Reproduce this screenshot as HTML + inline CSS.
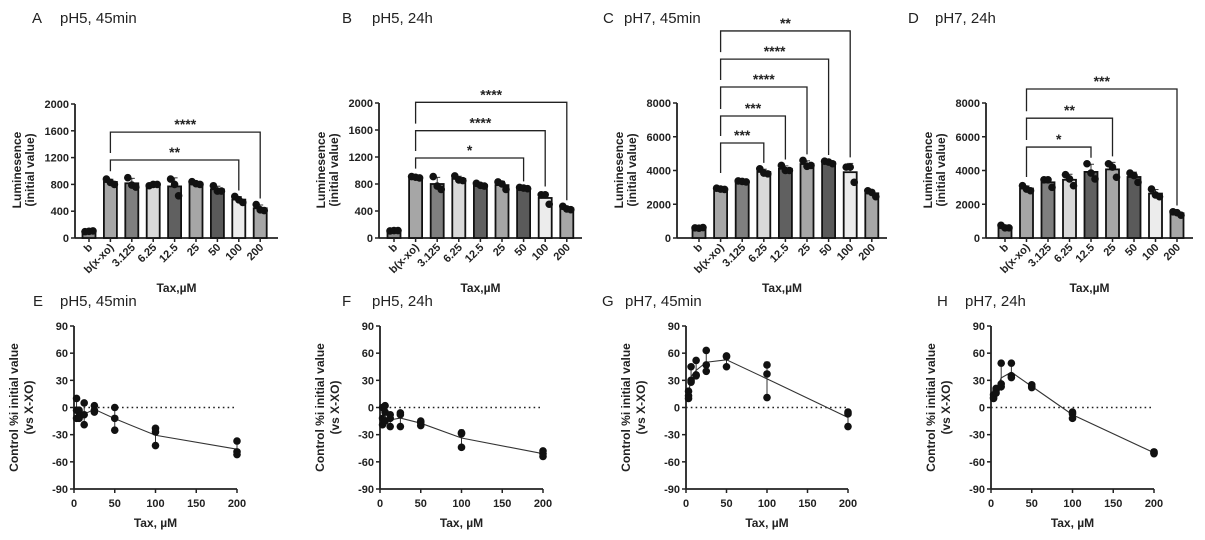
<!DOCTYPE html>
<html><head><meta charset="utf-8">
<style>
html,body{margin:0;padding:0;background:#fff;}
svg{display:block;font-family:"Liberation Sans",Arial,sans-serif;}
.tk{font-size:11px;font-weight:bold;fill:#222;}
.tt{font-size:12px;font-weight:bold;fill:#222;}
.pt{font-size:15px;fill:#222;}
</style></head>
<body>
<svg id="fig" width="1205" height="540" viewBox="0 0 1205 540" xmlns="http://www.w3.org/2000/svg"></svg>
<script>
// ---- data ----
const barCats = ["b","b(x-xo)","3.125","6.25","12.5","25","50","100","200"];
const barColors = ["#8a8a8a","#a6a6a6","#7f7f7f","#d9d9d9","#606060","#a6a6a6","#5a5a5a","#ececec","#a6a6a6"];
const ptsA = [[95,100,105],[880,830,800],[900,790,760],[780,800,800],[880,800,630],[840,810,800],[780,700,700],[620,570,530],[500,420,410]];
const ptsB = [[105,110,110],[910,900,890],[910,770,720],[920,860,850],[810,780,770],[830,800,720],[750,740,730],[640,640,500],[470,430,420]];
const ptsC = [[600,580,620],[2950,2900,2880],[3380,3350,3320],[4100,3850,3800],[4300,4000,4000],[4600,4250,4300],[4550,4500,4400],[4200,4200,3300],[2800,2700,2450]];
const ptsD = [[750,600,600],[3100,2900,2800],[3450,3450,3000],[3750,3500,3100],[4400,3850,3500],[4400,4200,3600],[3850,3700,3300],[2900,2550,2450],[1550,1500,1350]];
const sigA = [[1164,7,"**"],[1580,8,"****"]];
const sigB = [[1185,6,"*"],[1590,7,"****"],[2010,8,"****"]];
const sigC = [[5630,3,"***"],[7230,4,"***"],[8950,5,"****"],[10600,6,"****"],[12270,7,"**"]];
const sigD = [[5390,4,"*"],[7100,5,"**"],[8830,8,"***"]];
const ticksLow = [0,400,800,1200,1600,2000];
const ticksHigh = [0,2000,4000,6000,8000];
const conc = [3.125,6.25,12.5,25,50,100,200];
const ptsE = [[10,-3,-12],[-3,-10,-12],[5,-8,-19],[2,-3,-5],[0,-12,-25],[-23,-27,-42],[-37,-49,-52]];
const ptsF = [[0,-12,-19],[2,-5,-15],[-8,-12,-21],[-6,-8,-21],[-15,-17,-20],[-28,-29,-44],[-48,-51,-54]];
const ptsG = [[18,13,10],[45,30,28],[52,36,35],[63,47,40],[57,56,45],[47,37,11],[-5,-7,-21]];
const ptsH = [[14,11,10],[21,19,16],[49,26,23],[49,35,33],[25,23,22],[-5,-7,-12],[-49,-50,-51]];
const yTicksPct = [-90,-60,-30,0,30,60,90];
const xTicksPct = [0,50,100,150,200];

const svg = document.getElementById('fig');
const NS = "http://www.w3.org/2000/svg";
function mk(tag, attrs, parent){
  const e = document.createElementNS(NS, tag);
  for (const k in attrs) e.setAttribute(k, attrs[k]);
  (parent||svg).appendChild(e);
  return e;
}
function mean(a){return a.reduce((s,v)=>s+v,0)/a.length;}
function sd(a){const m=mean(a);return Math.sqrt(a.reduce((s,v)=>s+(v-m)*(v-m),0)/(a.length-1));}
function title(x1,x2,y,letter,txt,nm){
  const g = mk('g',{});
  
  
  const a = mk('text',{x:x1,y:y,class:'pt'},g); a.textContent = letter;
  const b = mk('text',{x:x2,y:y,class:'pt'},g); b.textContent = txt;
}

function barPanel(o){
  const g = mk('g',{});
  
  
  const yS = v => o.y0 - (v/o.ymax)*(o.y0-o.ytop);
  const xS = i => o.bx0 + i*o.step;
  const ya = mk('line',{x1:o.ax,y1:o.ytop,x2:o.ax,y2:o.y0,stroke:'#222','stroke-width':1.8},g);
  
  
  const xa = mk('line',{x1:o.ax,y1:o.y0,x2:o.axEnd,y2:o.y0,stroke:'#222','stroke-width':1.8},g);
  
  
  o.ticks.forEach(t=>{
    const y = yS(t);
    mk('line',{x1:o.ax-4,y1:y,x2:o.ax,y2:y,stroke:'#222','stroke-width':1.5},g);
    const tx = mk('text',{x:o.ax-6,y:y+4,'text-anchor':'end',class:'tk'},g);
    
    
    tx.textContent = t;
  });
  o.pts.forEach((p,i)=>{
    const m = mean(p), s = sd(p), cx = xS(i);
    const bar = mk('rect',{x:cx-6.5,y:yS(m),width:13,height:o.y0-yS(m),fill:barColors[i],stroke:'#111','stroke-width':1.8},g);
    
    
    mk('line',{x1:cx,y1:yS(m),x2:cx,y2:yS(m+s),stroke:'#333','stroke-width':1},g);
    mk('line',{x1:cx-3,y1:yS(m+s),x2:cx+3,y2:yS(m+s),stroke:'#333','stroke-width':1},g);
    const offs=[-4,0,4];
    p.forEach((v,j)=>{
      const c = mk('circle',{cx:cx+offs[j],cy:yS(v),r:3.8,fill:'#111'},g);
      
      
    });
    mk('line',{x1:cx,y1:o.y0,x2:cx,y2:o.y0+4,stroke:'#222','stroke-width':1.5},g);
    const lb = mk('text',{x:cx+4,y:o.y0+10,'text-anchor':'end',class:'tk',transform:`rotate(-45 ${cx+4} ${o.y0+10})`},g);
    
    
    lb.textContent = barCats[i];
  });
  const sorted = o.sig.slice().sort((a,b)=>a[0]-b[0]);
  const bxoTop = yS(mean(o.pts[1])+sd(o.pts[1]));
  sorted.forEach((sg,k)=>{
    const y = yS(sg[0]);
    const xl = xS(1), xr = xS(sg[1]);
    const tp = o.pts[sg[1]];
    const yr = yS(Math.max(...tp, mean(tp)+sd(tp))) - 6;
    let yl;
    if (k===0) yl = Math.max(y+8, Math.min(bxoTop-8, y+30));
    else yl = yS(sorted[k-1][0]) - 7;
    const br = mk('path',{d:`M${xl},${yl} V${y} H${xr} V${yr}`,fill:'none',stroke:'#222','stroke-width':1.3},g);
    
    
    const st = mk('text',{x:(xl+xr)/2,y:y-3,'text-anchor':'middle','font-size':'14px','font-weight':'bold',fill:'#222'},g);
    
    
    st.textContent = sg[2];
  });
  const yt = mk('text',{transform:`translate(${o.ax-54},${o.y0-68}) rotate(-90)`,'text-anchor':'middle',class:'tt'},g);
  
  
  const t1 = mk('tspan',{x:0,dy:0},yt); t1.textContent='Luminesence';
  const t2 = mk('tspan',{x:0,dy:13},yt); t2.textContent='(initial value)';
  const xt = mk('text',{x:(o.ax+o.axEnd)/2,y:292,'text-anchor':'middle',class:'tt'},g);
  
  
  xt.textContent = 'Tax,µM';
}

function linePanel(o){
  const g = mk('g',{});
  
  
  const yTop=326, yBot=489;
  const yS = v => yBot - (v+90)/180*(yBot-yTop);
  const xS = v => o.ax + v/200*(o.x200-o.ax);
  const ya = mk('line',{x1:o.ax,y1:yTop,x2:o.ax,y2:yBot,stroke:'#222','stroke-width':1.8},g);
  
  
  const xa = mk('line',{x1:o.ax,y1:yBot,x2:o.x200,y2:yBot,stroke:'#222','stroke-width':1.8},g);
  
  
  yTicksPct.forEach(t=>{
    const y=yS(t);
    mk('line',{x1:o.ax-4,y1:y,x2:o.ax,y2:y,stroke:'#222','stroke-width':1.5},g);
    const tx = mk('text',{x:o.ax-6,y:y+4,'text-anchor':'end',class:'tk'},g);
    
    
    tx.textContent=t;
  });
  xTicksPct.forEach(t=>{
    const x=xS(t);
    mk('line',{x1:x,y1:yBot,x2:x,y2:yBot+4,stroke:'#222','stroke-width':1.5},g);
    const tx = mk('text',{x:x,y:yBot+18,'text-anchor':'middle',class:'tk','font-size':'12px'},g);
    
    
    tx.textContent=t;
  });
  const zl = mk('line',{x1:o.ax,y1:yS(0),x2:o.x200,y2:yS(0),stroke:'#222','stroke-width':1.6,'stroke-dasharray':'1.6,3.2'},g);
  
  
  const means = o.pts.map(mean);
  const ln = mk('polyline',{points:conc.map((c,i)=>xS(c)+','+yS(means[i])).join(' '),fill:'none',stroke:'#333','stroke-width':1.1},g);
  
  
  o.pts.forEach((p,i)=>{
    const x=xS(conc[i]), m=means[i], s=sd(p);
    mk('line',{x1:x,y1:yS(m-s),x2:x,y2:yS(m+s),stroke:'#333','stroke-width':1},g);
    mk('line',{x1:x-2.5,y1:yS(m+s),x2:x+2.5,y2:yS(m+s),stroke:'#333','stroke-width':1},g);
    p.forEach(v=>{
      const c = mk('circle',{cx:x,cy:yS(v),r:3.8,fill:'#111'},g);
      
      
    });
  });
  const yt = mk('text',{transform:`translate(${o.ax-56},${yS(0)}) rotate(-90)`,'text-anchor':'middle',class:'tt','font-size':'13px'},g);
  
  
  const t1 = mk('tspan',{x:0,dy:0},yt); t1.textContent='Control %i initial value';
  const t2 = mk('tspan',{x:0,dy:15},yt); t2.textContent='(vs X-XO)';
  const xt = mk('text',{x:(o.ax+o.x200)/2,y:527,'text-anchor':'middle',class:'tt','font-size':'13px'},g);
  
  
  xt.textContent='Tax, µM';
}

title(32,60,23,'A','pH5, 45min','panel-a-title');
title(342,372,23,'B','pH5, 24h','panel-b-title');
title(603,624,23,'C','pH7, 45min','panel-c-title');
title(908,935,23,'D','pH7, 24h','panel-d-title');
title(33,60,306,'E','pH5, 45min','panel-e-title');
title(342,372,306,'F','pH5, 24h','panel-f-title');
title(602,625,306,'G','pH7, 45min','panel-g-title');
title(937,965,306,'H','pH7, 24h','panel-h-title');

barPanel({name:'panel-a-chart',ax:75,axEnd:278,bx0:89,step:21.4,ytop:104,y0:238,ymax:2000,ticks:ticksLow,pts:ptsA,sig:sigA});
barPanel({name:'panel-b-chart',ax:379,axEnd:582,bx0:394,step:21.6,ytop:103,y0:238,ymax:2000,ticks:ticksLow,pts:ptsB,sig:sigB});
barPanel({name:'panel-c-chart',ax:677,axEnd:887,bx0:699,step:21.6,ytop:103,y0:238,ymax:8000,ticks:ticksHigh,pts:ptsC,sig:sigC});
barPanel({name:'panel-d-chart',ax:986,axEnd:1193,bx0:1005,step:21.5,ytop:103,y0:238,ymax:8000,ticks:ticksHigh,pts:ptsD,sig:sigD});
linePanel({name:'panel-e-chart',ax:74,x200:237,pts:ptsE});
linePanel({name:'panel-f-chart',ax:380,x200:543,pts:ptsF});
linePanel({name:'panel-g-chart',ax:686,x200:848,pts:ptsG});
linePanel({name:'panel-h-chart',ax:991,x200:1154,pts:ptsH});
</script>
</body></html>
